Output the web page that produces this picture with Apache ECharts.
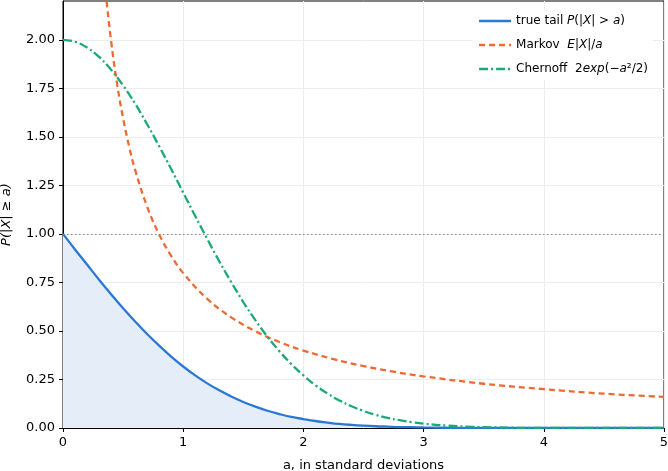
<!DOCTYPE html>
<html lang="en">
<head>
    <meta charset="UTF-8">
    <title>Tail bounds</title>
    <style>
        html, body { margin: 0; padding: 0; background: #fff; }
        #chartmain { width: 668px; height: 471px; }
    </style>
</head>
<body>
    <div id="chartmain"></div>
    <script src="https://cdn.jsdelivr.net/npm/echarts@6/dist/echarts.min.js"></script>
    <script type="text/javascript">
        // values
        var tailX = [0, 0.1, 0.2, 0.3, 0.4, 0.5, 0.6, 0.7, 0.8, 0.9, 1.0, 1.1, 1.2, 1.3, 1.4, 1.5, 1.6, 1.7, 1.8, 1.9,
            2.0, 2.1, 2.2, 2.3, 2.4, 2.5, 2.6, 2.7, 2.8, 2.9, 3.0, 3.2, 3.4, 3.6, 3.8, 4.0, 4.5, 5.0];
        var tailY = [1.000, 0.920, 0.842, 0.764, 0.689, 0.617, 0.549, 0.484, 0.424, 0.368, 0.317, 0.271, 0.230, 0.194,
            0.162, 0.134, 0.110, 0.089, 0.072, 0.057, 0.046, 0.036, 0.028, 0.021, 0.016, 0.012, 0.009, 0.007, 0.005,
            0.004, 0.003, 0.0014, 0.0007, 0.0003, 0.0001, 0.0001, 0, 0];

        var chernX = [0, 0.1, 0.2, 0.3, 0.4, 0.5, 0.6, 0.7, 0.8, 0.9, 1.0, 1.1, 1.2, 1.3, 1.4, 1.5, 1.6, 1.7, 1.8, 1.9,
            2.0, 2.1, 2.2, 2.3, 2.4, 2.5, 2.6, 2.7, 2.8, 2.9, 3.0, 3.2, 3.4, 3.6, 3.8, 4.0, 4.5, 5.0];
        var chernY = [2.000, 1.990, 1.960, 1.912, 1.846, 1.765, 1.671, 1.565, 1.452, 1.334, 1.213, 1.092, 0.974, 0.859,
            0.751, 0.649, 0.556, 0.471, 0.396, 0.329, 0.271, 0.220, 0.178, 0.142, 0.112, 0.088, 0.068, 0.052, 0.040,
            0.030, 0.022, 0.012, 0.006, 0.003, 0.001, 0.0007, 0.0001, 0];

        var markovX = [0.3, 0.35, 0.4, 0.45, 0.5, 0.55, 0.6, 0.7, 0.8, 0.9, 1.0, 1.2, 1.4, 1.6, 1.8, 2.0, 2.25, 2.5,
            2.75, 3.0, 3.5, 4.0, 4.5, 5.0];
        var markovY = [2.660, 2.280, 1.995, 1.773, 1.596, 1.451, 1.330, 1.140, 0.997, 0.887, 0.798, 0.665, 0.570, 0.499,
            0.443, 0.399, 0.355, 0.319, 0.290, 0.266, 0.228, 0.200, 0.177, 0.160];

        var xTicks = [0, 1, 2, 3, 4, 5];
        var yTicks = [0, 0.25, 0.5, 0.75, 1.0, 1.25, 1.5, 1.75, 2.0];

        var names = ['true tail', 'Markov', 'Chernoff'];
        var colors = ['#2a78d6', '#ef6a32', '#1ca97a'];

        var pairs = (xs, ys) => xs.map((x, i) => [x, ys[i]]);

        var mychart = echarts.init(document.getElementById('chartmain'));
        var font = 'DejaVu Sans';

        var option = {
            animation: false,
            textStyle: { fontFamily: font },
            grid: {
                left: 63, right: 4, top: 1, bottom: 43,
                containLabel: false, outerBoundsMode: 'none',
                show: true, borderColor: '#000', borderWidth: 1
            },
            legend: {
                orient: 'vertical',
                right: 15, top: 10,
                itemWidth: 32, itemHeight: 10, itemGap: 12,
                backgroundColor: '#fff',
                itemStyle: { opacity: 0 },
                lineStyle: { width: 2.6 },
                data: names,
                formatter: function (n) {
                    if (n === 'true tail') return 'true tail {i|P}(|{i|X}| > {i|a})';
                    if (n === 'Markov') return 'Markov  {i|E}|{i|X}|/{i|a}';
                    return 'Chernoff  2{i|exp}(\u2212{i|a}\u00b2/2)';
                },
                textStyle: {
                    fontSize: 12, color: '#000', fontFamily: font,
                    rich: { i: { fontStyle: 'italic', fontSize: 12, fontFamily: font } }
                }
            },
            xAxis: {
                type: 'value',
                min: 0, max: 5, interval: 1,
                name: 'a, in standard deviations',
                nameLocation: 'middle', nameGap: 31,
                nameTextStyle: { fontSize: 13, color: '#000', fontFamily: font },
                axisLine: { lineStyle: { color: '#000' } },
                axisTick: { length: 4, lineStyle: { color: '#000' } },
                axisLabel: { fontSize: 13, color: '#000', margin: 8,
                    formatter: v => xTicks.indexOf(v) >= 0 ? String(v) : '' },
                splitLine: { show: true, lineStyle: { color: '#ededed' } }
            },
            yAxis: {
                type: 'value',
                min: 0, max: 2.2, interval: 0.25,
                name: 'P(|X| \u2265 a)',
                nameLocation: 'middle', nameGap: 50, nameRotate: 90,
                nameTextStyle: { fontSize: 13, color: '#000', fontStyle: 'italic', fontFamily: font },
                axisLine: { show: true, lineStyle: { color: '#000' } },
                axisTick: { show: true, length: 4, lineStyle: { color: '#000' }, customValues: yTicks },
                axisLabel: { fontSize: 13, color: '#000', margin: 8, customValues: yTicks,
                    formatter: v => v.toFixed(2) },
                splitLine: { show: true, lineStyle: { color: '#ededed' } }
            },
            series: [
                {
                    name: names[0], type: 'line', smooth: 0.4, showSymbol: false, symbol: 'none',
                    data: pairs(tailX, tailY), z: 3,
                    lineStyle: { color: colors[0], width: 2.3 },
                    itemStyle: { color: colors[0] },
                    areaStyle: { color: '#e5edf9', opacity: 1 },
                    markLine: {
                        silent: true, symbol: 'none', label: { show: false },
                        lineStyle: { color: '#888', type: [1.5, 2.5], width: 1 },
                        data: [{ yAxis: 1 }]
                    }
                },
                {
                    name: names[1], type: 'line', smooth: 0.4, showSymbol: false, symbol: 'none',
                    data: pairs(markovX, markovY), z: 4,
                    lineStyle: { color: colors[1], width: 2.3, type: [6, 4] },
                    itemStyle: { color: colors[1] }
                },
                {
                    name: names[2], type: 'line', smooth: 0.4, showSymbol: false, symbol: 'none',
                    data: pairs(chernX, chernY), z: 5,
                    lineStyle: { color: colors[2], width: 2.3, type: [9, 3, 2, 3] },
                    itemStyle: { color: colors[2] }
                }
            ]
        };
        mychart.setOption(option, true);
    </script>
</body>
</html>
